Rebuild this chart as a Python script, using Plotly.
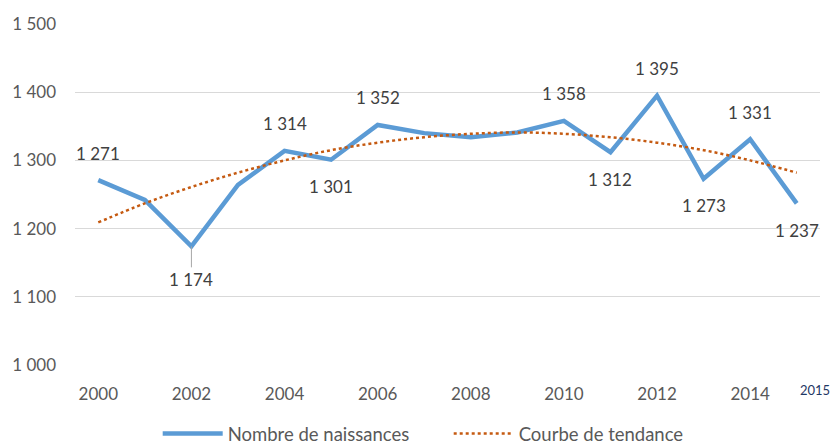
import plotly.graph_objects as go

years = list(range(2000, 2016))
naissances = [1271, 1242, 1174, 1264, 1314, 1301, 1352, 1340, 1334, 1341, 1358, 1312, 1395, 1273, 1331, 1237]
tendance = [1209, 1237, 1261, 1282, 1300, 1315, 1326, 1334, 1339, 1341, 1339, 1334, 1326, 1315, 1300, 1282]

# data labels: year, value, position ("above"/"below")
label_years = [2000, 2002, 2004, 2005, 2006, 2010, 2011, 2012, 2013, 2014, 2015]
label_pos = ["above", "below", "above", "below", "above", "above", "below", "above", "below", "above", "below"]

y_ticks = [1000, 1100, 1200, 1300, 1400, 1500]
x_ticks = [2000, 2002, 2004, 2006, 2008, 2010, 2012, 2014]

def fmt(v):
    s = f"{v:,}"
    return s.replace(",", " ")

FONT = "Lato, Calibri, Carlito, sans-serif"
TXT = "#595959"

fig = go.Figure()
fig.add_trace(go.Scatter(
    x=years, y=naissances, mode="lines", name="Nombre de naissances",
    line=dict(color="#5B9BD5", width=4.5), hoverinfo="skip"))
fig.add_trace(go.Scatter(
    x=years, y=tendance, mode="lines", name="Courbe de tendance",
    line=dict(color="#C55A11", width=2.5, dash="dot", shape="spline"), hoverinfo="skip"))

for yr, pos in zip(label_years, label_pos):
    v = naissances[years.index(yr)]
    if yr == 2002:
        fig.add_annotation(x=yr, y=v, text=fmt(v), showarrow=True, arrowhead=0,
                           arrowcolor="#A6A6A6", arrowwidth=1, ax=0, ay=33, standoff=0,
                           font=dict(family=FONT, size=17, color="#404040"))
    else:
        fig.add_annotation(x=yr, y=v, text=fmt(v), showarrow=False,
                           yshift=27 if pos == "above" else -27,
                           font=dict(family=FONT, size=17, color="#404040"))

fig.add_annotation(x=2015, y=0, yref="paper", text="2015", showarrow=False,
                   xanchor="center", yanchor="top", yshift=-15, xshift=18,
                   font=dict(family=FONT, size=13, color="#1F3864"))

fig.update_layout(
    width=830, height=445,
    margin=dict(l=75, r=10, t=24, b=79.5, autoexpand=False),
    paper_bgcolor="white", plot_bgcolor="white",
    font=dict(family=FONT, size=17, color=TXT),
    showlegend=True,
    legend=dict(orientation="h", x=0.19, xanchor="left", xref="container",
                y=0.025, yanchor="middle", yref="container",
                font=dict(family=FONT, size=18.5, color=TXT), itemwidth=60,
                entrywidth=216, entrywidthmode="pixels"),
    xaxis=dict(range=[1999.5, 2015.5], tickvals=x_ticks, ticktext=[str(x) for x in x_ticks],
               showgrid=False, zeroline=False, showline=False, automargin=False,
               ticks="outside", ticklen=14, tickcolor="rgba(0,0,0,0)",
               tickfont=dict(family=FONT, size=17, color=TXT)),
    yaxis=dict(range=[1000, 1500], tickvals=y_ticks, ticktext=[fmt(v) for v in y_ticks],
               showgrid=True, gridcolor="#D9D9D9", gridwidth=1, zeroline=False, automargin=False,
               showline=False, ticks="", tickfont=dict(family=FONT, size=17, color=TXT),
               ticklabelstandoff=18),
)

fig.write_html("out.html", config={"displayModeBar": False},
               post_script="document.body.style.margin='0';")
